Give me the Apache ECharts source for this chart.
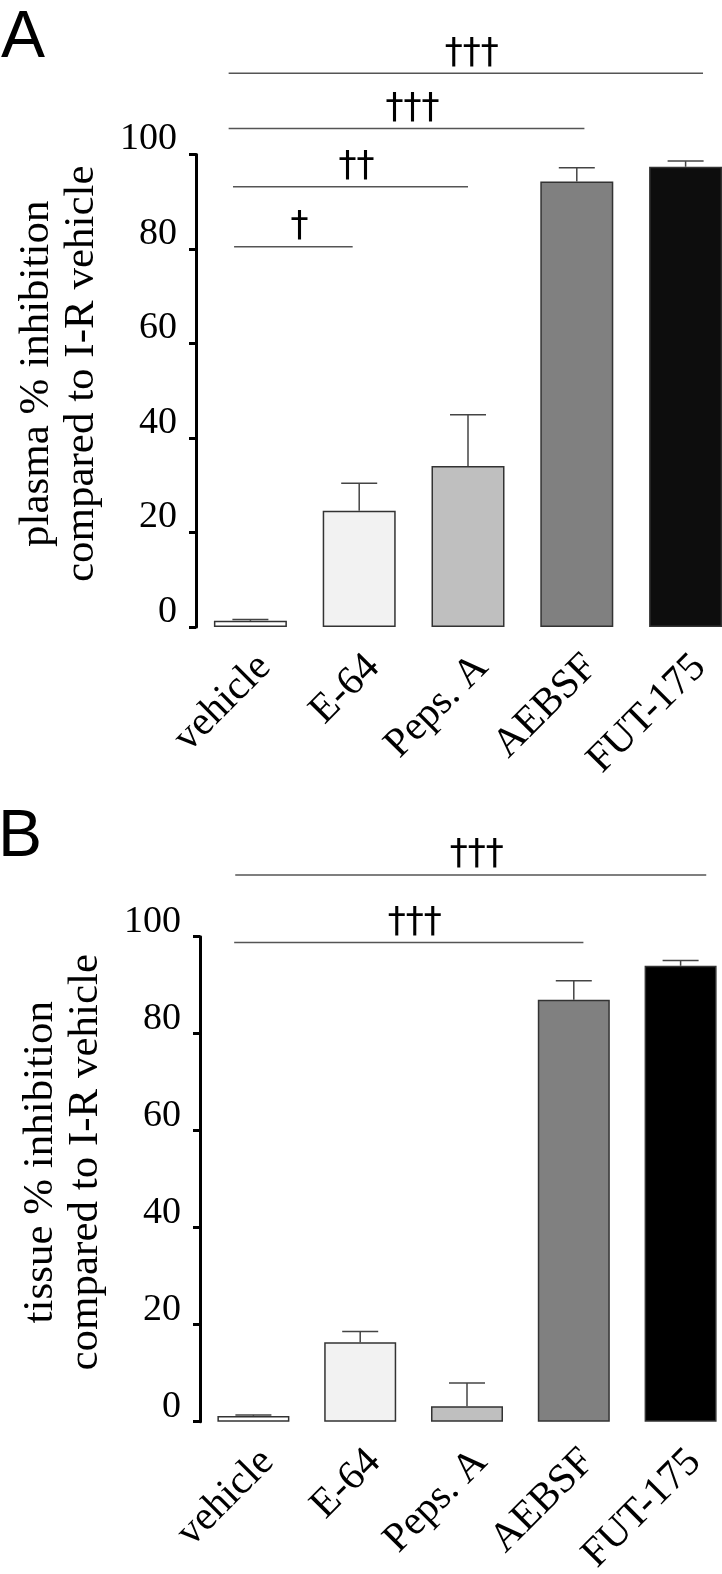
<!DOCTYPE html>
<html>
<head>
<meta charset="utf-8">
<script src="https://cdn.jsdelivr.net/npm/echarts@6/dist/echarts.min.js"></script>
<style>
html,body{margin:0;padding:0;background:#fff;}
#chart{width:722px;height:1574px;}
</style>
</head>
<body>
<div id="chart"></div>
<script>
// ---------- data ----------
const categories = ['vehicle', 'E-64', 'Peps. A', 'AEBSF', 'FUT-175'];
const plasmaMean = [1.3, 24.6, 34.1, 94.3, 97.4];
const plasmaErr  = [0.3, 5.8, 10.8, 2.9, 1.2];
const tissueMean = [1.2, 16.4, 3.2, 87.0, 94.0];
const tissueErr  = [0.2, 2.2, 4.8, 3.9, 1.1];
const yTicks = [0, 20, 40, 60, 80, 100];
// significance brackets: from / to (category index), level (y units), label
const plasmaSigFrom  = [-0.15, -0.16, -0.2, -0.2];
const plasmaSigTo    = [0.94, 2.0, 3.07, 4.16];
const plasmaSigLevel = [80.5, 93.2, 105.5, 117.2];
const plasmaSigText  = ['†', '††', '†††', '†††'];
const tissueSigFrom  = [-0.18, -0.17];
const tissueSigTo    = [3.09, 4.24];
const tissueSigLevel = [98.8, 112.7];
const tissueSigText  = ['†††', '†††'];
const plasmaTitle = 'plasma % inhibition\ncompared to I-R vehicle';
const tissueTitle = 'tissue % inhibition\ncompared to I-R vehicle';

// ---------- style ----------
const colorsA = ['#ffffff', '#f2f2f2', '#bfbfbf', '#808080', '#0d0d0d'];
const colorsB = ['#ffffff', '#f2f2f2', '#bfbfbf', '#808080', '#000000'];
const SERIF = 'Liberation Serif';

function yAxisCfg(gi, title) {
  return {
    type: 'value', gridIndex: gi, min: 0, max: 100, interval: 20,
    splitLine: {show: false},
    axisLine: {show: true, lineStyle: {color: '#000', width: 3}},
    axisTick: {show: true, inside: false, length: 7, lineStyle: {color: '#000', width: 3}},
    axisLabel: {
      color: '#000', fontFamily: SERIF, fontSize: 38, margin: 19,
      verticalAlign: 'bottom', lineHeight: 30,
      formatter: v => (yTicks.indexOf(v) >= 0 ? String(v) : '')
    },
    name: title, nameLocation: 'middle', nameGap: 92, nameRotate: 90,
    nameTextStyle: {color: '#000', fontFamily: SERIF, fontSize: 43, lineHeight: 45, padding: [0, 0, 0, 34]}
  };
}
function xAxisCfg(gi) {
  return {
    type: 'category', gridIndex: gi, data: categories,
    axisLine: {show: false}, axisTick: {show: false},
    axisLabel: {interval: 0, rotate: 45, color: '#000', fontFamily: SERIF, fontSize: 41,
                margin: 20, verticalAlign: 'top', lineHeight: 40}
  };
}
function barSeries(gi, means, colors, bw) {
  return {
    type: 'bar', xAxisIndex: gi, yAxisIndex: gi, barWidth: bw,
    data: means.map((m, i) => ({value: m, itemStyle: {color: colors[i]}})),
    itemStyle: {borderColor: '#333', borderWidth: 1.5},
    z: 2
  };
}
function errSeries(gi, means, errs) {
  return {
    type: 'custom', xAxisIndex: gi, yAxisIndex: gi, z: 3,
    data: means.map((m, i) => [i, m, m + errs[i]]),
    encode: {x: 0, y: [1, 2]},
    renderItem: function (params, api) {
      const p0 = api.coord([api.value(0), api.value(1)]);
      const p1 = api.coord([api.value(0), api.value(2)]);
      const half = 18;
      const st = {stroke: '#444', lineWidth: 1.5};
      return {type: 'group', children: [
        {type: 'line', shape: {x1: p0[0], y1: p0[1], x2: p1[0], y2: p1[1]}, style: st},
        {type: 'line', shape: {x1: p1[0] - half, y1: p1[1], x2: p1[0] + half, y2: p1[1]}, style: st}
      ]};
    }
  };
}
function sigSeries(gi, from, to, level, text) {
  return {
    type: 'custom', xAxisIndex: gi, yAxisIndex: gi, z: 4, clip: false,
    data: level.map(l => [0, l]),
    encode: {x: 0, y: 1},
    renderItem: function (params, api) {
      const k = params.dataIndex;
      const c0 = api.coord([0, level[k]]);
      const bw = api.size([1, 0])[0];
      const xa = c0[0] + from[k] * bw;
      const xb = c0[0] + to[k] * bw;
      const y = c0[1];
      return {type: 'group', children: [
        {type: 'line', shape: {x1: xa, y1: y, x2: xb, y2: y}, style: {stroke: '#555', lineWidth: 1.5}},
        {type: 'text', x: (xa + xb) / 2 + 6, y: y - 2,
         style: {text: text[k], fill: '#000', font: '36px "DejaVu Sans"',
                 align: 'center', verticalAlign: 'bottom', textAlign: 'center', textVerticalAlign: 'bottom'}}
      ]};
    }
  };
}

const chart = echarts.init(document.getElementById('chart'), null, {renderer: 'canvas'});
chart.setOption({
  backgroundColor: '#fff',
  animation: false,
  grid: [
    {left: 196, top: 154.5, width: 544, height: 472.5, containLabel: false, outerBoundsMode: 'none'},
    {left: 200, top: 936.7, width: 534, height: 485, containLabel: false, outerBoundsMode: 'none'}
  ],
  xAxis: [xAxisCfg(0), xAxisCfg(1)],
  yAxis: [yAxisCfg(0, plasmaTitle), yAxisCfg(1, tissueTitle)],
  graphic: [
    {type: 'text', left: 1, top: 6, style: {text: 'A', font: '66px "Liberation Sans"', fill: '#000'}},
    {type: 'text', left: -2, top: 805, style: {text: 'B', font: '66px "Liberation Sans"', fill: '#000'}}
  ],
  series: [
    barSeries(0, plasmaMean, colorsA, 73),
    errSeries(0, plasmaMean, plasmaErr),
    sigSeries(0, plasmaSigFrom, plasmaSigTo, plasmaSigLevel, plasmaSigText),
    barSeries(1, tissueMean, colorsB, 72),
    errSeries(1, tissueMean, tissueErr),
    sigSeries(1, tissueSigFrom, tissueSigTo, tissueSigLevel, tissueSigText)
  ]
});
</script>
</body>
</html>
